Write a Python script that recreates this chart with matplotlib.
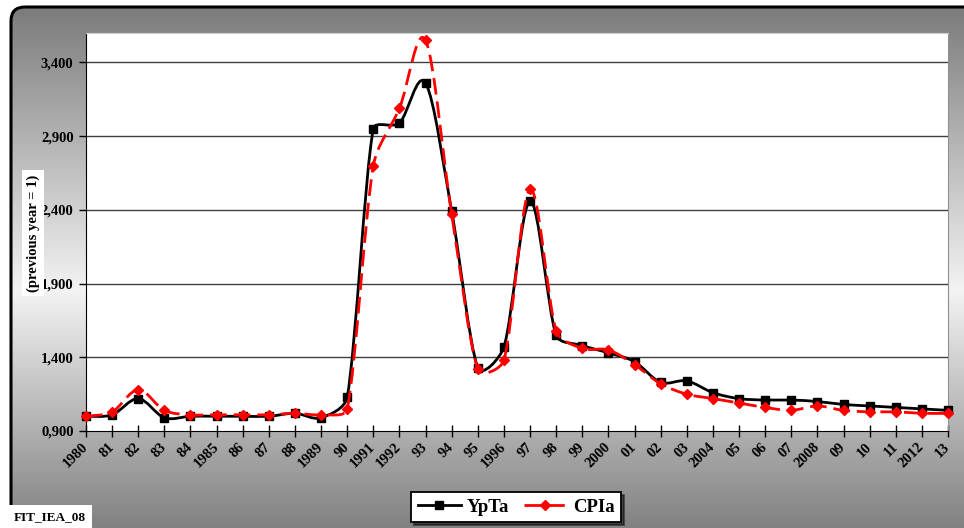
import numpy as np
import matplotlib
matplotlib.use("Agg")
import matplotlib.pyplot as plt
from matplotlib.path import Path
from matplotlib.patches import PathPatch, FancyBboxPatch
from matplotlib.lines import Line2D
from matplotlib.ticker import FixedLocator, FuncFormatter

# data
years = list(range(1980, 2014))
year_labels = ["1980", "81", "82", "83", "84", "1985", "86", "87", "88", "1989",
               "90", "1991", "1992", "93", "94", "95", "1996", "97", "98", "99",
               "2000", "01", "02", "03", "2004", "05", "06", "07", "2008", "09",
               "10", "11", "2012", "13"]
ypta = [1.00, 1.01, 1.12, 0.99, 1.00, 1.00, 1.00, 1.00, 1.02, 0.99,
        1.13, 2.95, 2.99, 3.26, 2.39, 1.33, 1.47, 2.46, 1.55, 1.48,
        1.43, 1.37, 1.23, 1.24, 1.16, 1.12, 1.11, 1.11, 1.10, 1.08,
        1.07, 1.06, 1.05, 1.04]
cpia = [1.00, 1.03, 1.18, 1.04, 1.01, 1.01, 1.01, 1.01, 1.02, 1.01,
        1.05, 2.70, 3.09, 3.55, 2.37, 1.32, 1.38, 2.54, 1.58, 1.46,
        1.45, 1.35, 1.22, 1.15, 1.12, 1.09, 1.06, 1.04, 1.07, 1.04,
        1.03, 1.03, 1.02, 1.02]
y_ticks = [0.9, 1.4, 1.9, 2.4, 2.9, 3.4]

SERIF = ["Liberation Serif", "DejaVu Serif"]
plt.rcParams['font.family'] = SERIF
plt.rcParams['font.weight'] = 'bold'

W, H = 964, 528
L, R, T, B = 86, 948, 33, 431
XMIN, XMAX, YMIN, YMAX = 1980, 2013, 0.9, 3.6


def smooth_path(xs, ys, k=0.35):
    # excel style smoothing in screen pixels: catmull-rom tangents,
    # arms capped to a share of the segment length
    sx = (R - L) / (XMAX - XMIN)
    sy = (B - T) / (YMAX - YMIN)
    pts = np.column_stack([(np.asarray(xs) - XMIN) * sx,
                           (np.asarray(ys) - YMIN) * sy]).astype(float)
    n = len(pts)
    tang = [(pts[min(i + 1, n - 1)] - pts[max(i - 1, 0)]) / 6.0 for i in range(n)]

    def cap(v, lim):
        m = np.hypot(*v)
        return v if m <= lim else v * lim / m

    verts = [pts[0]]
    codes = [Path.MOVETO]
    for i in range(n - 1):
        seg = np.hypot(*(pts[i + 1] - pts[i]))
        verts += [pts[i] + cap(tang[i], seg * k),
                  pts[i + 1] - cap(tang[i + 1], seg * k),
                  pts[i + 1]]
        codes += [Path.CURVE4] * 3
    verts = np.array(verts)
    verts[:, 0] = verts[:, 0] / sx + XMIN
    verts[:, 1] = verts[:, 1] / sy + YMIN
    return Path(verts, codes)


fig = plt.figure(figsize=(W / 100, H / 100), dpi=100)
fig.patch.set_facecolor('white')

# background: rounded frame with a grey gradient
bg = fig.add_axes([0, 0, 1, 1])
bg.set_xlim(0, W)
bg.set_ylim(H, 0)
bg.axis('off')
rows = np.arange(H + 60)
shade = np.where(rows < 290, 0.47 + (rows / 290.0) * 0.48,
                 0.95 - ((rows - 290) / 250.0) * 0.47)
grad = np.repeat(shade[:, None], 2, axis=1)
frame = FancyBboxPatch((11, 7), W + 20, H + 40,
                       boxstyle="round,pad=0,rounding_size=14",
                       facecolor='none', edgecolor='black', lw=2.2, zorder=3)
bg.add_patch(frame)
im = bg.imshow(grad, cmap='gray', vmin=0, vmax=1, aspect='auto',
               extent=[0, W + 40, H + 60, 0], zorder=1)
im.set_clip_path(frame)

# plot area
ax = fig.add_axes([L / W, (H - B) / H, (R - L) / W, (B - T) / H])
ax.set_facecolor('white')
ax.set_xlim(XMIN, XMAX)
ax.set_ylim(YMIN, YMAX)

for v in y_ticks[1:]:
    ax.axhline(v, color='#404040', lw=1.0, zorder=1)

ax.add_patch(PathPatch(smooth_path(years, ypta), facecolor='none',
                       edgecolor='black', lw=2.0, zorder=3,
                       capstyle='round', joinstyle='round'))
ax.plot(years, ypta, ls='none', marker='s', ms=5.5, color='black', zorder=4,
        clip_on=False)
ax.add_patch(PathPatch(smooth_path(years, cpia), facecolor='none',
                       edgecolor='#ff0000', lw=2.0, ls=(0, (6, 2.5)), zorder=5))
ax.plot(years, cpia, ls='none', marker='D', ms=5, color='#ff0000', zorder=6,
        clip_on=False)

ax.xaxis.set_major_locator(FixedLocator(years))
ax.set_xticklabels(year_labels, rotation=45, ha='right', va='center',
                   rotation_mode='anchor', fontsize=10.5, fontweight='bold')
ax.yaxis.set_major_locator(FixedLocator(y_ticks))
ax.yaxis.set_major_formatter(FuncFormatter(lambda v, p: f"{v:.3f}".replace('.', ',')))
for lab in ax.get_yticklabels():
    lab.set_fontsize(10.5)
    lab.set_fontweight('bold')
ax.tick_params(axis='x', direction='inout', length=8, width=1, pad=6)
ax.tick_params(axis='y', direction='out', length=5, width=1, pad=4)
ax.spines['left'].set_color('black')
ax.spines['bottom'].set_color('black')
ax.spines['top'].set_color('#d0d0d0')
ax.spines['right'].set_color('#909090')

# y axis title in a white box
fig.text(33 / W, (H - 233) / H, "(previous year = 1)", rotation=90,
         ha='center', va='center', fontsize=10.5, fontweight='bold',
         bbox=dict(facecolor='white', edgecolor='none', pad=3))

# chart id in the corner
fig.text(14 / W, (H - 517) / H, "FIT_IEA_08", ha='left', va='center',
         fontsize=9.5, fontweight='bold',
         bbox=dict(facecolor='white', edgecolor='none', pad=4))

handles = [Line2D([], [], color='black', lw=2, marker='s', ms=5.5),
           Line2D([], [], color='#ff0000', lw=2, ls=(0, (6, 2.5)), marker='D', ms=5)]
leg = fig.legend(handles, ["YpTa", "CPIa"], loc='center',
                 bbox_to_anchor=(516 / W, (H - 507) / H), ncol=2,
                 prop={'family': SERIF, 'weight': 'bold', 'size': 13.5},
                 frameon=True, fancybox=False, shadow={'color': 'black'},
                 handlelength=2.3, handletextpad=0.3, columnspacing=0.8,
                 borderpad=0.35)
leg.get_frame().set_edgecolor('black')
leg.get_frame().set_linewidth(1.3)

fig.savefig("out.png", dpi=100)
